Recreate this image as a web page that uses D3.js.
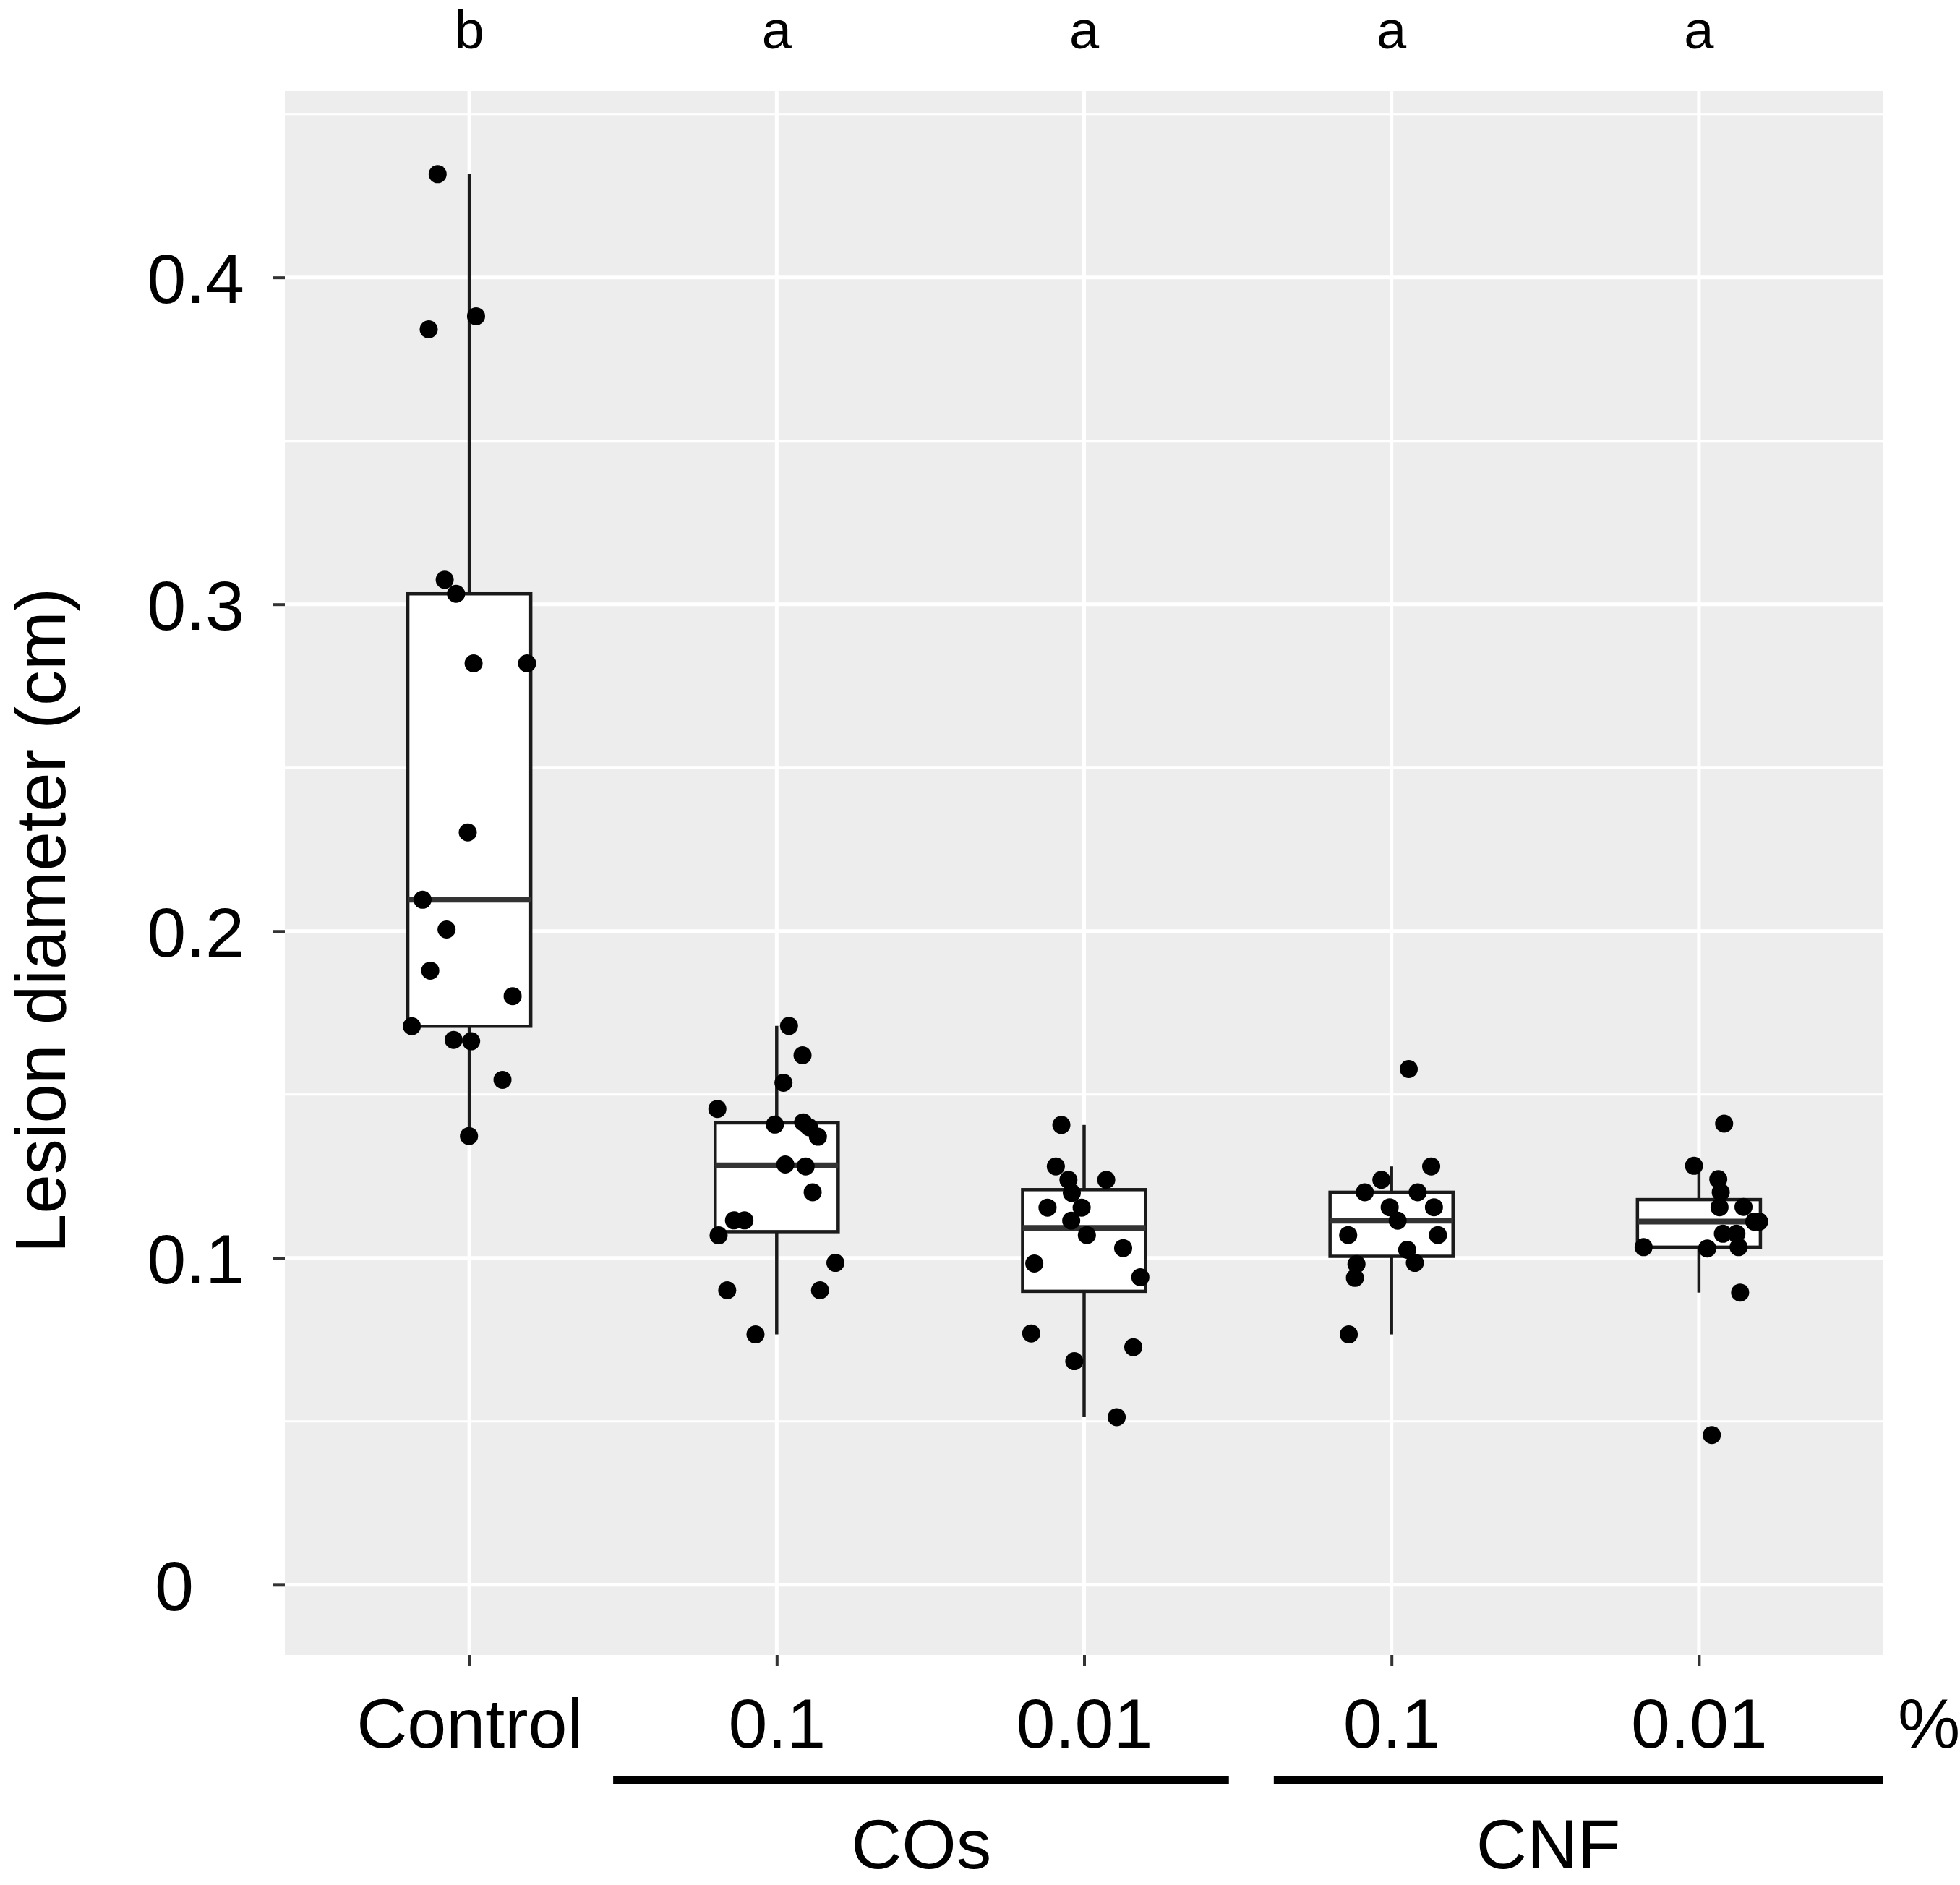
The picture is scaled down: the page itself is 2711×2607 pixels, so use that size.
<!DOCTYPE html>
<html>
<head>
<meta charset="utf-8">
<script src="https://cdn.jsdelivr.net/npm/d3@7"></script>
<style>
  html, body { margin: 0; padding: 0; background: #ffffff; }
  svg { display: block; }
  text { font-family: "Liberation Sans", Arial, Helvetica, sans-serif; fill: #000; }
</style>
</head>
<body>
<svg id="chart" width="2711" height="2607"></svg>
<script>
// ---------------- data ----------------
const categories = ["Control", "COs 0.1", "COs 0.01", "CNF 0.1", "CNF 0.01"];
const xTickLabels = ["Control", "0.1", "0.01", "0.1", "0.01"];
const sigLetters = ["b", "a", "a", "a", "a"];
const yTickValues = [0, 0.1, 0.2, 0.3, 0.4];
const yTickLabels = ["0", "0.1", "0.2", "0.3", "0.4"];
const yMinorValues = [0.05, 0.15, 0.25, 0.35, 0.45];
const yTitle = "Lesion diameter (cm)";
const unitLabel = "%";

// lesion diameters (cm) and the horizontal jitter of each dot (in category units)
const controlValues = [0.4316, 0.3881, 0.3841, 0.3075, 0.3032, 0.2819, 0.2819, 0.2302, 0.2096, 0.2005, 0.1879, 0.1801, 0.1709, 0.1667, 0.1663, 0.1545, 0.1373];
const controlJitter = [-0.103, 0.022, -0.132, -0.080, -0.043, 0.014, 0.188, -0.005, -0.152, -0.074, -0.127, 0.141, -0.187, -0.051, 0.006, 0.108, -0.001];

const cos01Values = [0.1710, 0.1620, 0.1536, 0.1456, 0.1408, 0.1415, 0.1400, 0.1371, 0.1286, 0.1280, 0.1201, 0.1115, 0.1115, 0.1069, 0.0985, 0.0901, 0.0901, 0.0766];
const cos01Jitter = [0.040, 0.084, 0.022, -0.193, -0.006, 0.086, 0.105, 0.134, 0.028, 0.094, 0.117, -0.139, -0.105, -0.189, 0.191, -0.161, 0.141, -0.069];

const cos001Values = [0.1407, 0.1280, 0.1239, 0.1239, 0.1199, 0.1154, 0.1154, 0.1114, 0.1070, 0.1030, 0.0983, 0.0941, 0.0769, 0.0727, 0.0684, 0.0513];
const cos001Jitter = [-0.074, -0.092, -0.051, 0.072, -0.040, -0.119, -0.008, -0.042, 0.009, 0.127, -0.162, 0.183, -0.172, 0.160, -0.032, 0.106];

const cnf01Values = [0.1578, 0.1280, 0.1239, 0.1201, 0.1201, 0.1155, 0.1155, 0.1114, 0.1070, 0.1070, 0.1025, 0.0981, 0.0985, 0.0939, 0.0766];
const cnf01Jitter = [0.056, 0.129, -0.033, -0.087, 0.085, -0.006, 0.138, 0.020, -0.141, 0.151, 0.051, -0.114, 0.076, -0.119, -0.139];

const cnf001Values = [0.1411, 0.1282, 0.1241, 0.1201, 0.1155, 0.1156, 0.1111, 0.1111, 0.1074, 0.1074, 0.1033, 0.1029, 0.1033, 0.0894, 0.0458];
const cnf001Jitter = [0.082, -0.016, 0.063, 0.071, 0.067, 0.145, 0.196, 0.180, 0.078, 0.122, -0.180, 0.027, 0.129, 0.134, 0.042];

// treatment groups under the x axis (span in category positions, 1-based)
const groupNames = ["COs", "CNF"];
const groupSpans = [[1.468, 3.471], [3.617, 5.6]];
const groupLabelAt = [2.47, 4.51];

// ---------------- layout ----------------
const svg = d3.select("#chart");
const panel = { left: 394, right: 2605, top: 126, bottom: 2289 };
const FONT = "'Liberation Sans', Arial, sans-serif";

const x = d3.scaleLinear().domain([0.4, 5.6]).range([panel.left, panel.right]);
const y = d3.scaleLinear().domain([-0.0215, 0.457]).range([panel.bottom, panel.top]);
const step = x(2) - x(1);

const groups = [
  { values: controlValues, jitter: controlJitter },
  { values: cos01Values, jitter: cos01Jitter },
  { values: cos001Values, jitter: cos001Jitter },
  { values: cnf01Values, jitter: cnf01Jitter },
  { values: cnf001Values, jitter: cnf001Jitter }
].map((g, i) => {
  const s = g.values.slice().sort(d3.ascending);
  const q1 = d3.quantile(s, 0.25), med = d3.quantile(s, 0.5), q3 = d3.quantile(s, 0.75);
  const iqr = q3 - q1;
  const lo = d3.min(s.filter(v => v >= q1 - 1.5 * iqr));
  const hi = d3.max(s.filter(v => v <= q3 + 1.5 * iqr));
  return { pos: i + 1, name: categories[i], q1, med, q3, lo, hi,
           pts: g.values.map((v, j) => ({ v, j: g.jitter[j] })) };
});

// panel background
svg.append("rect")
  .attr("x", panel.left).attr("y", panel.top)
  .attr("width", panel.right - panel.left).attr("height", panel.bottom - panel.top)
  .attr("fill", "#EDEDED");

// grid
const grid = svg.append("g");
grid.selectAll("line.minor").data(yMinorValues).join("line")
  .attr("x1", panel.left).attr("x2", panel.right)
  .attr("y1", d => y(d)).attr("y2", d => y(d))
  .attr("stroke", "#ffffff").attr("stroke-width", 3);
grid.selectAll("line.majorY").data(yTickValues).join("line")
  .attr("x1", panel.left).attr("x2", panel.right)
  .attr("y1", d => y(d)).attr("y2", d => y(d))
  .attr("stroke", "#ffffff").attr("stroke-width", 5);
grid.selectAll("line.majorX").data(d3.range(1, categories.length + 1)).join("line")
  .attr("x1", d => x(d)).attr("x2", d => x(d))
  .attr("y1", panel.top).attr("y2", panel.bottom)
  .attr("stroke", "#ffffff").attr("stroke-width", 5);

// boxplots
const boxW = 0.4 * step;
const bp = svg.append("g");
groups.forEach(g => {
  const cx = x(g.pos);
  bp.append("line").attr("x1", cx).attr("x2", cx).attr("y1", y(g.q3)).attr("y2", y(g.hi))
    .attr("stroke", "#1a1a1a").attr("stroke-width", 4.5);
  bp.append("line").attr("x1", cx).attr("x2", cx).attr("y1", y(g.q1)).attr("y2", y(g.lo))
    .attr("stroke", "#1a1a1a").attr("stroke-width", 4.5);
  bp.append("rect").attr("x", cx - boxW / 2).attr("width", boxW)
    .attr("y", y(g.q3)).attr("height", y(g.q1) - y(g.q3))
    .attr("fill", "#ffffff").attr("stroke", "#1a1a1a").attr("stroke-width", 4.5);
  bp.append("line").attr("x1", cx - boxW / 2).attr("x2", cx + boxW / 2)
    .attr("y1", y(g.med)).attr("y2", y(g.med))
    .attr("stroke", "#333333").attr("stroke-width", 8);
});

// jittered points
const pts = svg.append("g");
groups.forEach(g => {
  pts.selectAll(null).data(g.pts).join("circle")
    .attr("cx", d => x(g.pos + d.j)).attr("cy", d => y(d.v))
    .attr("r", 12.5).attr("fill", "#000000");
});

// y axis
const yAxis = d3.axisLeft(y).tickValues(yTickValues).tickSize(16).tickPadding(40)
  .tickFormat((d, i) => yTickLabels[i]);
const gy = svg.append("g").attr("transform", `translate(${panel.left},0)`).call(yAxis);
gy.select(".domain").remove();
gy.selectAll(".tick line").attr("stroke", "#333333").attr("stroke-width", 4);
gy.selectAll(".tick text")
  .attr("font-size", 97).attr("fill", "#000").attr("dy", "0.36em")
  .attr("font-family", FONT)
  .attr("dx", (d, i) => yTickLabels[i] === "0" ? -70 : 0);

// x axis
const xAxis = d3.axisBottom(x).tickValues(d3.range(1, categories.length + 1)).tickSize(15).tickPadding(0)
  .tickFormat((d, i) => xTickLabels[i]);
const gx = svg.append("g").attr("transform", `translate(0,${panel.bottom})`).call(xAxis);
gx.select(".domain").remove();
gx.selectAll(".tick line").attr("stroke", "#333333").attr("stroke-width", 4);
gx.selectAll(".tick text")
  .attr("font-size", 97).attr("fill", "#000")
  .attr("font-family", FONT)
  .attr("y", 2417 - panel.bottom).attr("dy", 0);

// unit label
svg.append("text").attr("x", 2668).attr("y", 2417)
  .attr("text-anchor", "middle").attr("font-size", 97).text(unitLabel);

// significance letters
svg.selectAll("text.sig").data(sigLetters).join("text")
  .attr("class", "sig")
  .attr("x", (d, i) => x(i + 1)).attr("y", 67)
  .attr("text-anchor", "middle").attr("font-size", 74).text(d => d);

// y title
svg.append("text")
  .attr("transform", "translate(90,1273) rotate(-90)")
  .attr("text-anchor", "middle").attr("font-size", 98).text(yTitle);

// group bars and names
svg.selectAll("line.grp").data(groupSpans).join("line")
  .attr("x1", d => x(d[0])).attr("x2", d => x(d[1]))
  .attr("y1", 2462).attr("y2", 2462)
  .attr("stroke", "#000").attr("stroke-width", 12);
svg.selectAll("text.grp").data(groupNames).join("text")
  .attr("x", (d, i) => x(groupLabelAt[i])).attr("y", 2584)
  .attr("text-anchor", "middle").attr("font-size", 97).text(d => d);
</script>
</body>
</html>
